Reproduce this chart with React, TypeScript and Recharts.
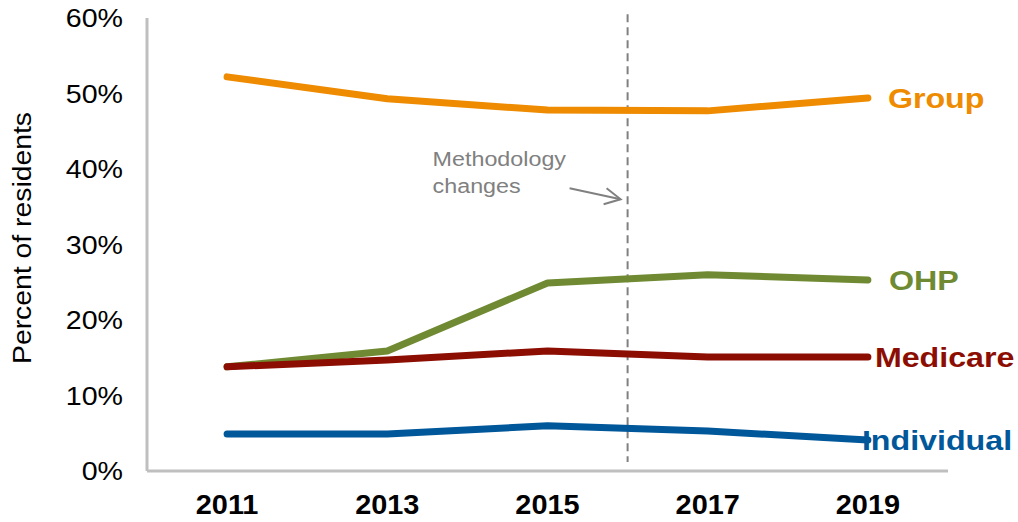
import React from 'react';
import { LineChart, Line, XAxis, YAxis, ReferenceLine, LabelList, Label } from 'recharts';

const years = [2011, 2013, 2015, 2017, 2019];
const groupValues = [52.2, 49.3, 47.8, 47.7, 49.4];
const ohpValues = [13.8, 15.9, 24.9, 26.0, 25.3];
const medicareValues = [13.8, 14.7, 15.9, 15.1, 15.1];
const individualValues = [4.9, 4.9, 6.0, 5.3, 4.1];
const yTicks = [0, 10, 20, 30, 40, 50, 60];
const methodologyYear = 2016;
const annotationLines = ['Methodology', 'changes'];
const yAxisTitle = 'Percent of residents';

const data = years.map((year, i) => ({
  year,
  group: groupValues[i],
  ohp: ohpValues[i],
  medicare: medicareValues[i],
  individual: individualValues[i],
}));

const FONT = '"Liberation Sans", Arial, Helvetica, sans-serif';

const series = [
  { key: 'group', name: 'Group', color: '#EE8B00', dx: 20 },
  { key: 'ohp', name: 'OHP', color: '#6F8A32', dx: 21 },
  { key: 'medicare', name: 'Medicare', color: '#8C0D02', dx: 7 },
  { key: 'individual', name: 'Individual', color: '#00579A', dx: -6 },
];

const makeEndLabel = (name: string, color: string, dx: number) => (props: any) => {
  const { x, y, index } = props;
  if (index !== years.length - 1) return null;
  return (
    <text
      transform={`translate(${x + dx}, ${y + 10}) scale(1.15, 1)`}
      fill={color}
      fontFamily={FONT}
      fontSize={28}
      fontWeight="bold"
      textAnchor="start"
    >
      {name}
    </text>
  );
};

const XTick = (props: any) => {
  const { x, y, payload } = props;
  return (
    <text
      transform={`translate(${x}, ${y}) scale(1.07, 1)`}
      textAnchor="middle"
      dy="0.71em"
      fill="#000"
      fontFamily={FONT}
      fontSize={27}
      fontWeight="bold"
    >
      {payload.value}
    </text>
  );
};

const YTick = (props: any) => {
  const { x, y, payload } = props;
  return (
    <text
      transform={`translate(${x}, ${y}) scale(1.1, 1)`}
      textAnchor="end"
      dy="0.355em"
      fill="#000"
      fontFamily={FONT}
      fontSize={26}
    >
      {`${payload.value}%`}
    </text>
  );
};

const AnnotationLabel = (props: any) => {
  const vb = props.viewBox || {};
  const lx = vb.x ?? 0;
  const top = vb.y ?? 0;
  const tx = lx - 195;
  return (
    <g>
      <text transform={`translate(${tx}, ${top + 152}) scale(1.11, 1)`} fill="#808080" fontFamily={FONT} fontSize={21}>
        {annotationLines[0]}
      </text>
      <text transform={`translate(${tx}, ${top + 179}) scale(1.11, 1)`} fill="#808080" fontFamily={FONT} fontSize={21}>
        {annotationLines[1]}
      </text>
      <line x1={lx - 58} y1={top + 174} x2={lx - 7} y2={top + 185} stroke="#808080" strokeWidth={2} />
      <polyline
        points={`${lx - 21},${top + 174} ${lx - 7},${top + 185} ${lx - 24},${top + 190}`}
        fill="none"
        stroke="#808080"
        strokeWidth={2}
      />
    </g>
  );
};

const YTitle = () => {
  const cx = 22;
  const cy = 238;
  return (
    <text
      transform={`translate(${cx}, ${cy}) rotate(-90) scale(1.09, 1)`}
      textAnchor="middle"
      dominantBaseline="central"
      fontFamily={FONT}
      fontSize={26}
      fill="#000"
    >
      {yAxisTitle}
    </text>
  );
};

export default function App() {
  return (
    <div
      style={{
        position: 'absolute',
        left: 0,
        top: 0,
        width: 1018,
        height: 522,
        overflow: 'hidden',
        fontFamily: FONT,
        background: '#fff',
      }}
    >
      <style>{`.recharts-surface { overflow: visible; }`}</style>
      <LineChart
        width={1018}
        height={522}
        data={data}
        margin={{ top: 18, right: 70, left: 0, bottom: 0 }}
      >
        <XAxis
          type="number"
          dataKey="year"
          domain={[2010, 2020]}
          ticks={years}
          height={51}
          axisLine={{ stroke: '#BFBFBF', strokeWidth: 3 }}
          tickLine={false}
          tickSize={0}
          tickMargin={24}
          tick={<XTick />}
        />
        <YAxis
          type="number"
          domain={[0, 60]}
          ticks={yTicks}
          width={147}
          axisLine={{ stroke: '#BFBFBF', strokeWidth: 3 }}
          tickLine={false}
          tickSize={0}
          tickMargin={24}
          tick={<YTick />}
        >
          <Label content={<YTitle />} />
        </YAxis>
        <ReferenceLine
          segment={[
            { x: methodologyYear, y: 60.5 },
            { x: methodologyYear, y: 1.2 },
          ]}
          ifOverflow="visible"
          stroke="#808080"
          strokeWidth={2}
          strokeDasharray="8 5"
          label={<AnnotationLabel />}
        />
        {series.map((s) => (
          <Line
            key={s.key}
            type="linear"
            dataKey={s.key}
            stroke={s.color}
            strokeWidth={7}
            strokeLinecap="round"
            strokeLinejoin="round"
            dot={false}
            activeDot={false}
            isAnimationActive={false}
          >
            <LabelList dataKey={s.key} content={makeEndLabel(s.name, s.color, s.dx)} />
          </Line>
        ))}
      </LineChart>
    </div>
  );
}
